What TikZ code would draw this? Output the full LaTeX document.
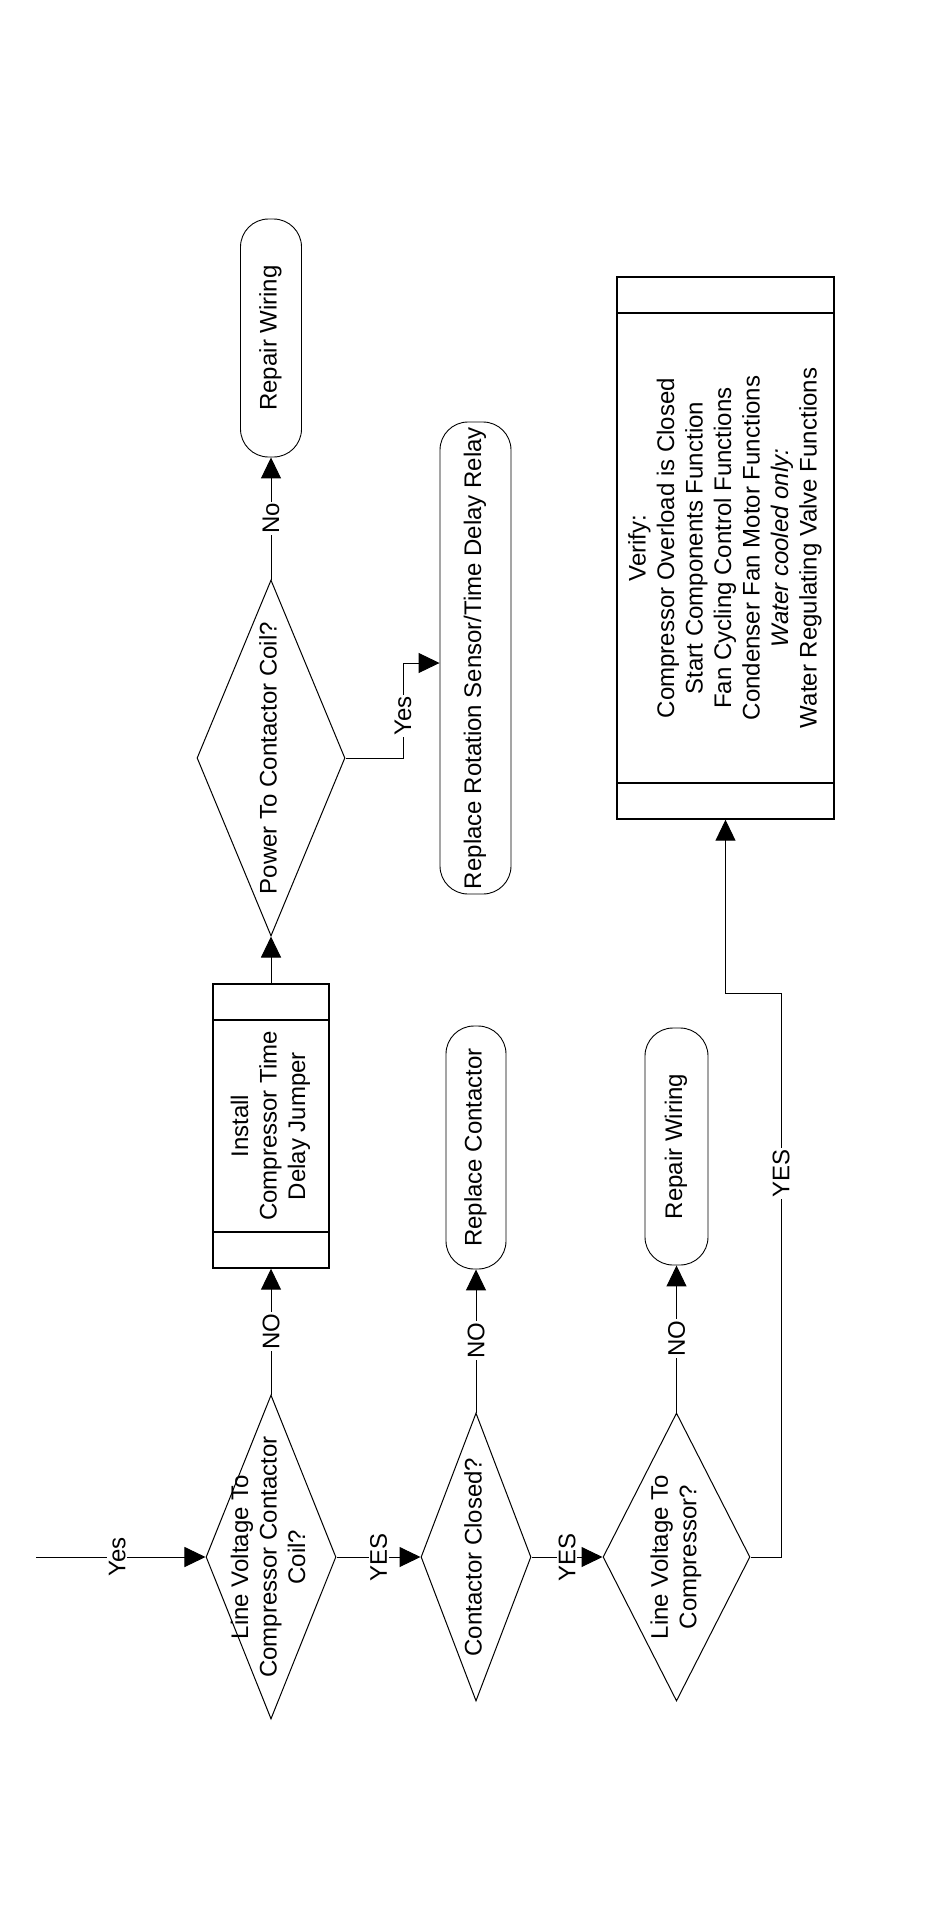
\documentclass[tikz,border=0pt]{standalone}
\usepackage{fontspec}
\setmainfont{Liberation Sans}
\usepackage{graphicx}
\usepackage{tikz}
\usetikzlibrary{arrows.meta,shapes.geometric}
\newcommand{\vtext}[1]{\rotatebox{90}{\begin{tabular}{@{}c@{}}#1\end{tabular}}}

\begin{document}
\begin{tikzpicture}[x=1pt,y=-1pt,
  font=\fontsize{24}{28.5}\selectfont,
  decision/.style={draw,diamond,inner sep=0pt,line width=1pt},
  terminal/.style={draw,rectangle,rounded corners=28pt,inner sep=0pt,line width=0.9pt},
  process/.style={draw,rectangle,inner sep=0pt,line width=1.4pt,
    path picture={\draw[line width=1.4pt]
      ([yshift=-36pt]path picture bounding box.north west) -- ([yshift=-36pt]path picture bounding box.north east)
      ([yshift=36pt]path picture bounding box.south west) -- ([yshift=36pt]path picture bounding box.south east);}},
  txt/.style={inner sep=0pt},
  lbl/.style={fill=white,inner sep=1.5pt,rotate=90},
  arrow/.style={-{Triangle[length=21pt,width=20pt]},line width=1pt}
]
\useasboundingbox (0,0) rectangle (950,1921);

\node[decision,minimum width=130pt,minimum height=324pt] (coil) at (271,1557) {};
\node[txt] (coiltext) at (coil) {\vtext{Line Voltage To\\Compressor Contactor\\Coil?}};
\node[decision,minimum width=110pt,minimum height=288pt] (closed) at (476,1557) {};
\node[txt] (closedtext) at (closed) {\vtext{Contactor Closed?}};
\node[decision,minimum width=147pt,minimum height=288pt] (volts) at (676.5,1557) {};
\node[txt] (voltstext) at (volts) {\vtext{Line Voltage To\\Compressor?}};

\node[process,minimum width=116pt,minimum height=284pt] (jumper) at (271,1126) {\vtext{Install\\Compressor Time\\Delay Jumper}};
\node[decision,minimum width=148pt,minimum height=356pt] (power) at (271,758) {};
\node[txt] (powertext) at (power) {\vtext{Power To Contactor Coil?}};
\node[terminal,minimum width=61pt,minimum height=238pt] (wiring) at (271,338) {\vtext{Repair Wiring}};
\node[terminal,minimum width=71pt,minimum height=472pt] (relay) at (475.5,658) {\vtext{Replace Rotation Sensor/Time Delay Relay}};

\node[terminal,minimum width=60pt,minimum height=243pt] (contactor) at (476,1147.5) {\vtext{Replace Contactor}};
\node[terminal,minimum width=63pt,minimum height=237pt] (rewire) at (676.5,1146.5) {\vtext{Repair Wiring}};
\node[process,minimum width=217pt,minimum height=542pt] (verify) at (725.5,548) {\vtext{Verify:\\Compressor Overload is Closed\\Start Components Function\\Fan Cycling Control Functions\\Condenser Fan Motor Functions\\\textit{Water cooled only:}\\Water Regulating Valve Functions}};
\coordinate (entry) at (36,1557);

\draw[arrow] (entry) -- node[lbl,pos=0.48]{Yes} (coil);
\draw[arrow] (coil) -- node[lbl]{NO} (jumper);
\draw[arrow] (jumper) -- (power);
\draw[arrow] (power) -- node[lbl]{No} (wiring);
\draw[arrow] (power.east) -| node[lbl,pos=0.72]{Yes} (403,663) -- (relay.west |- 403,663);
\draw[arrow] (coil) -- node[lbl]{YES} (closed);
\draw[arrow] (closed) -- node[lbl]{NO} (contactor);
\draw[arrow] (closed) -- node[lbl]{YES} (volts);
\draw[arrow] (volts) -- node[lbl]{NO} (rewire);
\draw[arrow] (volts.east) -| node[lbl,pos=0.84]{YES} (781,993) -| (verify);
\end{tikzpicture}
\end{document}
